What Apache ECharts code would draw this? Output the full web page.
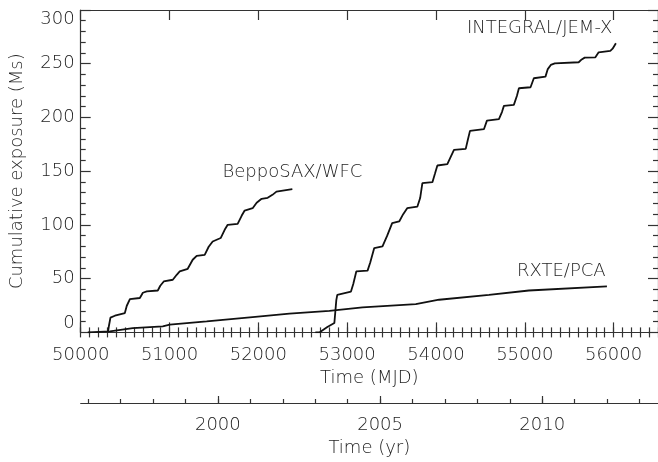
<!DOCTYPE html>
<html><head><meta charset="utf-8">
<script src="https://cdn.jsdelivr.net/npm/echarts@6/dist/echarts.min.js"></script>
<style>html,body{margin:0;padding:0;background:#fff}#c{width:658px;height:462px}</style>
</head><body><div id="c"></div>
<script>
// ---- Data ----
const saxTime = [50307,50318,50335,50385,50497,50519,50554,50666,50700,50744,50868,50896,50935,51037,51081,51115,51205,51261,51306,51396,51441,51486,51576,51621,51655,51767,51812,51846,51936,51981,52037,52105,52159,52204,52383];
const saxExp  = [0,6.2,13.7,15.5,18,24.8,31,32,36.9,38.1,39,43.4,47.4,49,53.6,56.7,59.2,67.6,71.3,72.2,79.7,84.6,87.8,95.5,100.1,101,108.5,113.4,115.6,120.6,124.3,125.2,128,131,133.3];

const pcaTime = [50080,50329,50587,50924,51003,51418,51935,52350,52800,53173,53773,54035,54597,55046,55925];
const pcaExp  = [0,1.0,4.0,5.6,7.2,10.2,14.3,17.4,20.0,23.3,26.4,30.4,35,39,42.8];

const jemxTime = [52642,52687,52777,52856,52878,52889,53043,53069,53103,53230,53260,53305,53398,53451,53507,53586,53631,53676,53791,53822,53847,53960,53990,54016,54128,54170,54203,54335,54361,54383,54540,54574,54709,54743,54765,54877,54911,54934,55065,55102,55233,55259,55293,55338,55607,55641,55675,55795,55832,55963,55989,56026];
const jemxExp  = [0,0,5,8.7,30,35,38,45,56.7,57.5,65,78.5,80,90,101.7,103.2,110,115.6,117.1,125,138.9,139.8,148,155.3,156.5,164,169.9,170.8,180,187.5,189.1,197.1,198.4,205,210.8,211.7,220,227.2,228.1,236.5,238,245,248.9,250.3,251.4,254,255.7,256,260.6,261.9,264,269.1];

const seriesNames = ['BeppoSAX/WFC','INTEGRAL/JEM-X','RXTE/PCA'];
const labelAt = [[52384,148.5],[55167,283.3],[55411,56.7]];

// Year axis: MJD of Jan 1 of each year, 1996..2013
const yearMJD = [50083,50449,50814,51179,51544,51910,52275,52640,53005,53371,53736,54101,54466,54832,55197,55562,55927,56293];
const yearMajorMJD = [51544,53371,55197];
const yearMajorLabel = ['2000','2005','2010'];

const xMin = 50000, xMax = 56500, yMin = 0, yMax = 300;

// ---- Chart ----
const FONT = 'DejaVu Sans';
const TXT = '#1e1e1e';
const AX = '#333';
const zip = (a,b) => a.map((v,i)=>[v,b[i]]);

const txt = {fontFamily: FONT, fontSize: 18, color: TXT, fontWeight: 200};
const lineStyle = {color: AX, width: 1.2};
const plain = (v) => String(v);

function xa(extra){
  return Object.assign({
    type:'value', min:xMin, max:xMax, splitLine:{show:false},
    axisLine:{show:false, lineStyle}, axisTick:{show:true, inside:true, lineStyle},
    axisLabel:{show:false}
  }, extra);
}

const chart = echarts.init(document.getElementById('c'), null, {renderer:'canvas'});
const option = {
  animation:false,
  backgroundColor:'#fff',
  grid:{left:80.7, top:10, width:578.8, height:322.7, containLabel:false},
  xAxis:[
    xa({position:'bottom', interval:1000, axisLine:{show:true, onZero:false, lineStyle},
        axisTick:{show:true, inside:true, length:10, lineStyle},
        axisLabel:Object.assign({show:true, margin:14, showMaxLabel:false, formatter:plain}, txt),
        name:'Time (MJD)', nameLocation:'middle', nameGap:36, nameTextStyle:txt}),
    xa({position:'bottom', interval:100, axisTick:{show:true, inside:true, length:5, lineStyle}}),
    xa({position:'top', interval:1000, axisLine:{show:true, onZero:false, lineStyle},
        axisTick:{show:true, inside:true, length:10, lineStyle}}),
    xa({position:'top', interval:100, axisTick:{show:true, inside:true, length:5, lineStyle}}),
    xa({position:'bottom', offset:70.6, axisLine:{show:true, onZero:false, lineStyle},
        axisTick:{show:true, inside:true, length:7, lineStyle, customValues:yearMajorMJD},
        axisLabel:Object.assign({show:true, margin:13, customValues:yearMajorMJD,
          formatter:(v)=>{const i=yearMajorMJD.indexOf(v); return i>=0?yearMajorLabel[i]:'';}}, txt),
        name:'Time (yr)', nameLocation:'middle', nameGap:36, nameTextStyle:txt}),
    xa({position:'bottom', offset:70.6, axisTick:{show:true, inside:true, length:4, lineStyle, customValues:yearMJD}})
  ],
  yAxis:[
    {type:'value', position:'left', min:yMin, max:yMax, interval:50, splitLine:{show:false},
     axisLine:{show:true, onZero:false, lineStyle}, axisTick:{show:true, inside:true, length:10, lineStyle},
     minorTick:{show:true, splitNumber:5, length:5, lineStyle},
     axisLabel:Object.assign({show:true, margin:6, formatter:plain, verticalAlignMinLabel:'bottom', verticalAlignMaxLabel:'top'}, txt),
     name:'Cumulative exposure (Ms)', nameLocation:'middle', nameGap:54, nameTextStyle:txt},
    {type:'value', position:'right', min:yMin, max:yMax, interval:50, splitLine:{show:false},
     axisLine:{show:true, onZero:false, lineStyle}, axisTick:{show:true, inside:true, length:10, lineStyle},
     minorTick:{show:true, splitNumber:5, length:5, lineStyle}, axisLabel:{show:false}}
  ],
  series:[
    [saxTime, saxExp], [jemxTime, jemxExp], [pcaTime, pcaExp]
  ].map((d,i)=>({
    name:seriesNames[i], type:'line', xAxisIndex:0, yAxisIndex:0,
    data:zip(d[0],d[1]), showSymbol:false, symbol:'none', smooth:false,
    lineStyle:{color:'#111', width:1.8}, silent:true, clip:true,
    markPoint:{symbol:'circle', symbolSize:1, itemStyle:{color:'rgba(0,0,0,0)'},
      data:[{coord:labelAt[i], name:seriesNames[i]}],
      label:Object.assign({show:true, position:'inside', formatter:seriesNames[i]}, txt)}
  }))
};
chart.setOption(option);
</script>
</body></html>
